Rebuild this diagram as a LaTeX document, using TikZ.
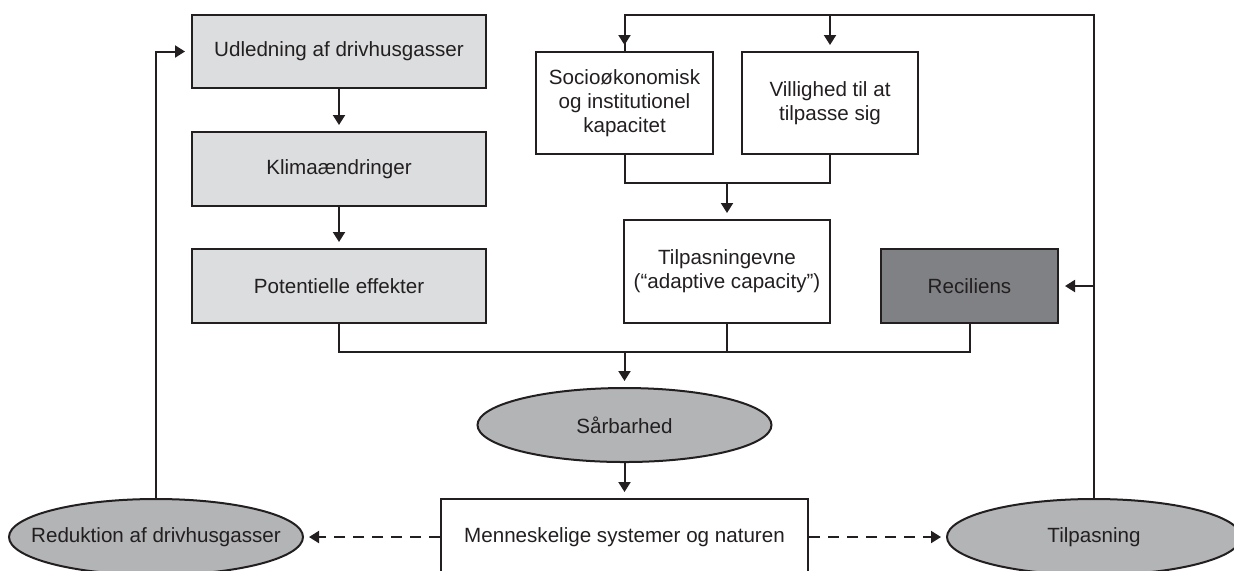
\documentclass[tikz,border=0pt]{standalone}
\usepackage{fontspec}
\setmainfont{Liberation Sans}
\usepackage{tikz}
\usetikzlibrary{shapes.geometric}
\usetikzlibrary{arrows.meta}

\definecolor{streg}{HTML}{231F20}
\definecolor{lysgraa}{HTML}{DCDDDE}
\definecolor{mellemgraa}{HTML}{B3B4B6}
\definecolor{moerkgraa}{HTML}{808184}

\tikzset{
	boks/.style={draw=streg, line width=1pt, rectangle, inner sep=0pt, align=center,
		text=streg, font=\fontsize{10.3}{12}\selectfont},
	oval/.style={draw=streg, line width=1pt, ellipse, inner sep=0pt, fill=mellemgraa,
		minimum width=147pt, minimum height=38pt, text=streg, font=\fontsize{10.3}{12}\selectfont},
	pil/.style={draw=streg, line width=1pt, -{Triangle[length=5pt,width=6pt]}, shorten >=3pt},
	stiplet/.style={pil, dash pattern=on 5.5pt off 4pt, shorten >=2.5pt},
	linje/.style={draw=streg, line width=1pt}
}

\begin{document}
\begin{tikzpicture}[x=0.5pt, y=-0.5pt]
		\clip (0,0) rectangle (1234,570);

		% venstre kolonne
		\node[boks, fill=lysgraa, minimum width=147pt, minimum height=36.5pt] (udled) at (339, 51.5) {Udledning af drivhusgasser};
		\node[boks, fill=lysgraa, minimum width=147pt, minimum height=37pt] (klima) at (339, 169) {Klimaændringer};
		\node[boks, fill=lysgraa, minimum width=147pt, minimum height=37pt] (effekt) at (339, 286) {Potentielle effekter};

		% midterste kolonne
		\node[boks, fill=white, minimum width=88.5pt, minimum height=51pt] (socio) at (624.5, 103) {Socioøkonomisk\\og institutionel\\kapacitet};
		\node[boks, fill=white, minimum width=88pt, minimum height=51pt] (vilje) at (830, 103) {Villighed til at\\tilpasse sig};
		\node[boks, fill=white, minimum width=103pt, minimum height=51.5pt] (evne) at (727, 271.5) {Tilpasningevne\\(“adaptive capacity”)};
		\node[boks, fill=moerkgraa, minimum width=88.5pt, minimum height=37pt] (recil) at (969.5, 286) {Reciliens};

		% nederst
		\node[oval, minimum width=147pt, minimum height=37pt] (saarbar) at (624.5, 425) {\makebox[0pt]{Sårbarhed}};
		\node[boks, fill=white, minimum width=183.5pt, minimum height=38pt] (menne) at (624.5, 537) {Menneskelige systemer og naturen};
		\node[oval] (reduk) at (156, 537) {\makebox[0pt]{Reduktion af drivhusgasser}};
		\node[oval] (tilpas) at (1094, 537) {\makebox[0pt]{Tilpasning}};

		\coordinate (hjoerne) at (1094, 15);
		\coordinate (samle) at (727, 183);
		\coordinate (bund) at (624.5, 352);

		% pile
		\draw[pil] (udled) -- (klima);
		\draw[pil] (klima) -- (effekt);
		\draw[pil] (reduk.north) |- (udled.west);

		\draw[linje] (tilpas.north) -- (hjoerne) -| (socio.north);
		\draw[pil] (socio.north |- hjoerne) -- (socio.north);
		\draw[pil] (vilje.north |- hjoerne) -- (vilje.north);
		\draw[pil] (tilpas.north |- recil.east) -- (recil.east);

		\draw[linje] (socio.south) |- (samle) -| (vilje.south);
		\draw[pil] (samle) -- (evne.north);

		\draw[linje] (effekt.south) |- (bund);
		\draw[linje] (evne.south) |- (bund);
		\draw[linje] (recil.south) |- (bund);
		\draw[pil] (bund) -- (saarbar.north);
		\draw[pil] (saarbar.south) -- (menne.north);

		\draw[stiplet] (menne.west) -- (reduk.east);
		\draw[stiplet] (menne.east) -- (tilpas.west);
	\end{tikzpicture}
\end{document}
